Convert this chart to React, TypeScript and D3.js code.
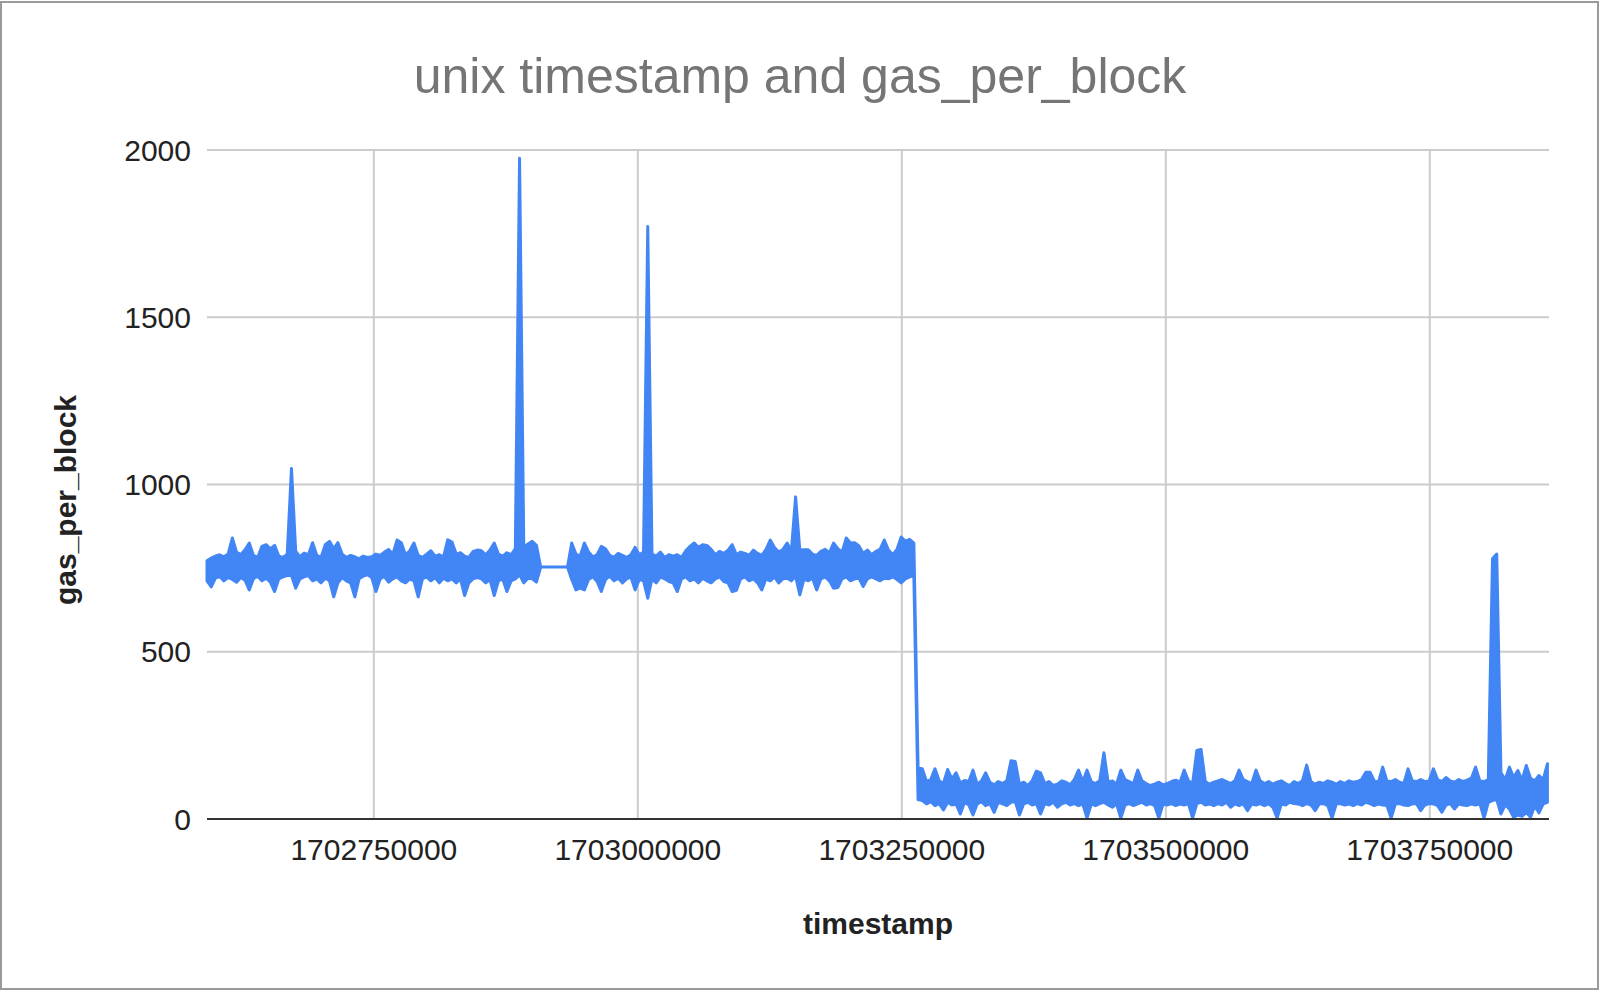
import * as d3 from 'd3';

// gas_per_block, read off the chart as min / max per 4000 s bucket
// (the raw series has far too many blocks to type out)
const bucketSeconds = 4000;
const runAStart = 1702592000; // blocks before the gap
const runBStart = 1702933400; // blocks after the gap

const runAMax = [
  772, 780, 786, 790, 784, 792, 840, 798, 790, 805,
  825, 788, 782, 815, 820, 808, 818, 786, 782, 792,
  1048, 800, 784, 795, 790, 826, 788, 782, 820, 830,
  808, 826, 792, 782, 788, 784, 778, 786, 782, 784,
  792, 788, 798, 806, 792, 834, 826, 790, 802, 825,
  788, 782, 792, 802, 786, 790, 784, 835, 828, 792,
  796, 786, 782, 800, 804, 802, 790, 804, 825, 792,
  786, 796, 790, 808, 1975, 812, 822, 830, 818, 753,
];
const runAMin = [
  712, 694, 720, 725, 712, 722, 716, 708, 722, 714,
  685, 718, 726, 712, 720, 708, 680, 718, 724, 728,
  728, 690, 718, 724, 728, 712, 718, 706, 720, 712,
  664, 706, 722, 712, 706, 664, 718, 726, 730, 722,
  680, 718, 725, 708, 718, 724, 712, 706, 718, 712,
  664, 718, 724, 712, 722, 706, 720, 712, 718, 706,
  718, 668, 706, 718, 722, 718, 706, 716, 668, 712,
  718, 680, 712, 718, 730, 706, 720, 718, 708, 753,
];

const runBMax = [
  753, 825, 792, 786, 825, 798, 784, 790, 815, 808,
  788, 782, 794, 788, 782, 790, 812, 790, 798, 1771,
  792, 786, 798, 782, 790, 786, 790, 782, 802, 815,
  825, 812, 820, 818, 806, 790, 800, 794, 804, 820,
  790, 798, 794, 788, 804, 794, 788, 806, 834, 812,
  798, 806, 825, 800, 963, 804, 805, 805, 792, 788,
  800, 806, 796, 825, 808, 798, 840, 825, 826, 816,
  794, 804, 790, 800, 806, 834, 804, 790, 806, 843,
  830, 836, 825,
  152, 150, 112, 118, 150, 114, 106, 148, 120, 138,
  108, 115, 112, 146, 104, 114, 138, 110, 102, 112,
  106, 114, 174, 172, 104, 110, 100, 114, 143, 138,
  106, 112, 100, 104, 114, 110, 102, 118, 146, 112,
  146, 112, 106, 114, 198, 110, 114, 104, 146, 118,
  112, 106, 146, 114, 106, 100, 104, 110, 102, 106,
  112, 116, 110, 146, 114, 106, 205, 208, 112, 104,
  110, 114, 118, 112, 106, 114, 146, 118, 112, 106,
  146, 114, 106, 112, 104, 110, 114, 106, 100, 112,
  106, 114, 161, 112, 104, 110, 106, 114, 110, 104,
  112, 106, 114, 110, 112, 118, 140, 140, 114, 110,
  155, 114, 112, 118, 110, 106, 150, 114, 112, 118,
  112, 114, 150, 118, 112, 124, 114, 110, 118, 112,
  116, 122, 155, 114, 112, 118, 778, 792, 138, 118,
  155, 124, 145, 116, 160, 122, 114, 130, 118, 165,
];
const runBMin = [
  753, 716, 685, 690, 685, 716, 724, 710, 680, 716,
  726, 712, 720, 706, 718, 724, 685, 716, 712, 660,
  718, 706, 724, 718, 710, 706, 680, 718, 724, 712,
  718, 706, 720, 712, 706, 718, 724, 710, 706, 680,
  684, 718, 724, 712, 718, 706, 685, 718, 712, 724,
  706, 718, 720, 712, 726, 670, 718, 712, 720, 685,
  718, 724, 712, 690, 692, 718, 724, 712, 718, 720,
  695, 718, 724, 718, 712, 720, 718, 724, 716, 706,
  718, 724, 728,
  58, 55, 45, 52, 40, 46, 27, 50, 42, 45,
  15, 50, 42, 12, 45, 52, 40, 46, 20, 50,
  45, 40, 50, 52, 12, 45, 50, 42, 46, 15,
  46, 42, 50, 35, 45, 50, 42, 46, 40, 45,
  3, 45, 40, 46, 50, 42, 35, 45, 3, 42,
  46, 40, 45, 50, 42, 46, 40, 3, 45, 42,
  46, 40, 45, 42, 46, 3, 46, 50, 42, 45,
  40, 46, 42, 50, 35, 45, 40, 46, 25, 45,
  42, 46, 40, 45, 35, 3, 45, 42, 50, 46,
  45, 40, 46, 42, 25, 45, 46, 40, 3, 45,
  46, 42, 45, 40, 46, 42, 50, 46, 40, 45,
  42, 40, 3, 45, 46, 42, 40, 45, 46, 25,
  42, 46, 45, 40, 20, 42, 46, 30, 45, 42,
  40, 45, 42, 46, 3, 50, 55, 58, 15, 42,
  30, 5, 12, 8, 20, 5, 40, 18, 45, 50,
];

const xDomain = [1702592000, 1703862900];
const xTicks = [1702750000, 1703000000, 1703250000, 1703500000, 1703750000];
const yTicks = [0, 500, 1000, 1500, 2000];

const chartTitle = 'unix timestamp and gas_per_block';
const xTitle = 'timestamp';
const yTitle = 'gas_per_block';

const W = 1600, H = 990;
const plot = { left: 207, right: 1549, top: 150, bottom: 819 };
const font = "'Liberation Sans', Arial, Helvetica, sans-serif";
const blue = '#4285f4';

type Bucket = { t: number; lo: number; hi: number };

const toBuckets = (start: number, mins: number[], maxs: number[]): Bucket[] =>
  maxs.map((hi, i) => ({ t: start + i * bucketSeconds, lo: mins[i], hi }));

export default function App() {
  const x = d3.scaleLinear().domain(xDomain).range([plot.left, plot.right]);
  const y = d3.scaleLinear().domain([0, 2000]).range([plot.bottom, plot.top]);

  const data = [
    ...toBuckets(runAStart, runAMin, runAMax),
    ...toBuckets(runBStart, runBMin, runBMax),
  ];

  // min/max band of the series, outlined so thin parts still read as a line
  const band = d3.area<Bucket>()
    .x(d => x(d.t))
    .y0(d => y(d.lo))
    .y1(d => y(d.hi));

  return (
    <div style={{ position: 'absolute', left: 0, top: 0 }}>
      <svg width={W} height={H} style={{ display: 'block', background: '#fff' }}>
        <rect x={1} y={2} width={W - 3} height={H - 3} fill="#fff" stroke="#9a9a9a" strokeWidth={2} />

        <text x={800} y={93} textAnchor="middle" fontFamily={font} fontSize={50} fill="#757575">
          {chartTitle}
        </text>

        {/* grid */}
        {yTicks.filter(v => v > 0).map(v => (
          <line key={'gy' + v} x1={plot.left} x2={plot.right} y1={y(v)} y2={y(v)} stroke="#cccccc" strokeWidth={2} />
        ))}
        {xTicks.map(t => (
          <line key={'gx' + t} x1={x(t)} x2={x(t)} y1={plot.top} y2={plot.bottom} stroke="#cccccc" strokeWidth={2} />
        ))}

        {/* series */}
        <path d={band(data) ?? ''} fill={blue} stroke={blue} strokeWidth={3} strokeLinejoin="round" />

        {/* baseline */}
        <line x1={plot.left} x2={plot.right} y1={y(0)} y2={y(0)} stroke="#333" strokeWidth={2} />

        {/* tick labels */}
        {yTicks.map(v => (
          <text key={'ly' + v} x={191} y={y(v) + 10.5} textAnchor="end" fontFamily={font} fontSize={30} fill="#222">
            {v}
          </text>
        ))}
        {xTicks.map(t => (
          <text key={'lx' + t} x={x(t)} y={860} textAnchor="middle" fontFamily={font} fontSize={30} fill="#222">
            {t}
          </text>
        ))}

        {/* axis titles */}
        <text x={(plot.left + plot.right) / 2} y={934} textAnchor="middle" fontFamily={font} fontSize={30} fontWeight="bold" fill="#222">
          {xTitle}
        </text>
        <text transform="translate(76,500) rotate(-90)" textAnchor="middle" fontFamily={font} fontSize={30} fontWeight="bold" fill="#222">
          {yTitle}
        </text>
      </svg>
    </div>
  );
}
